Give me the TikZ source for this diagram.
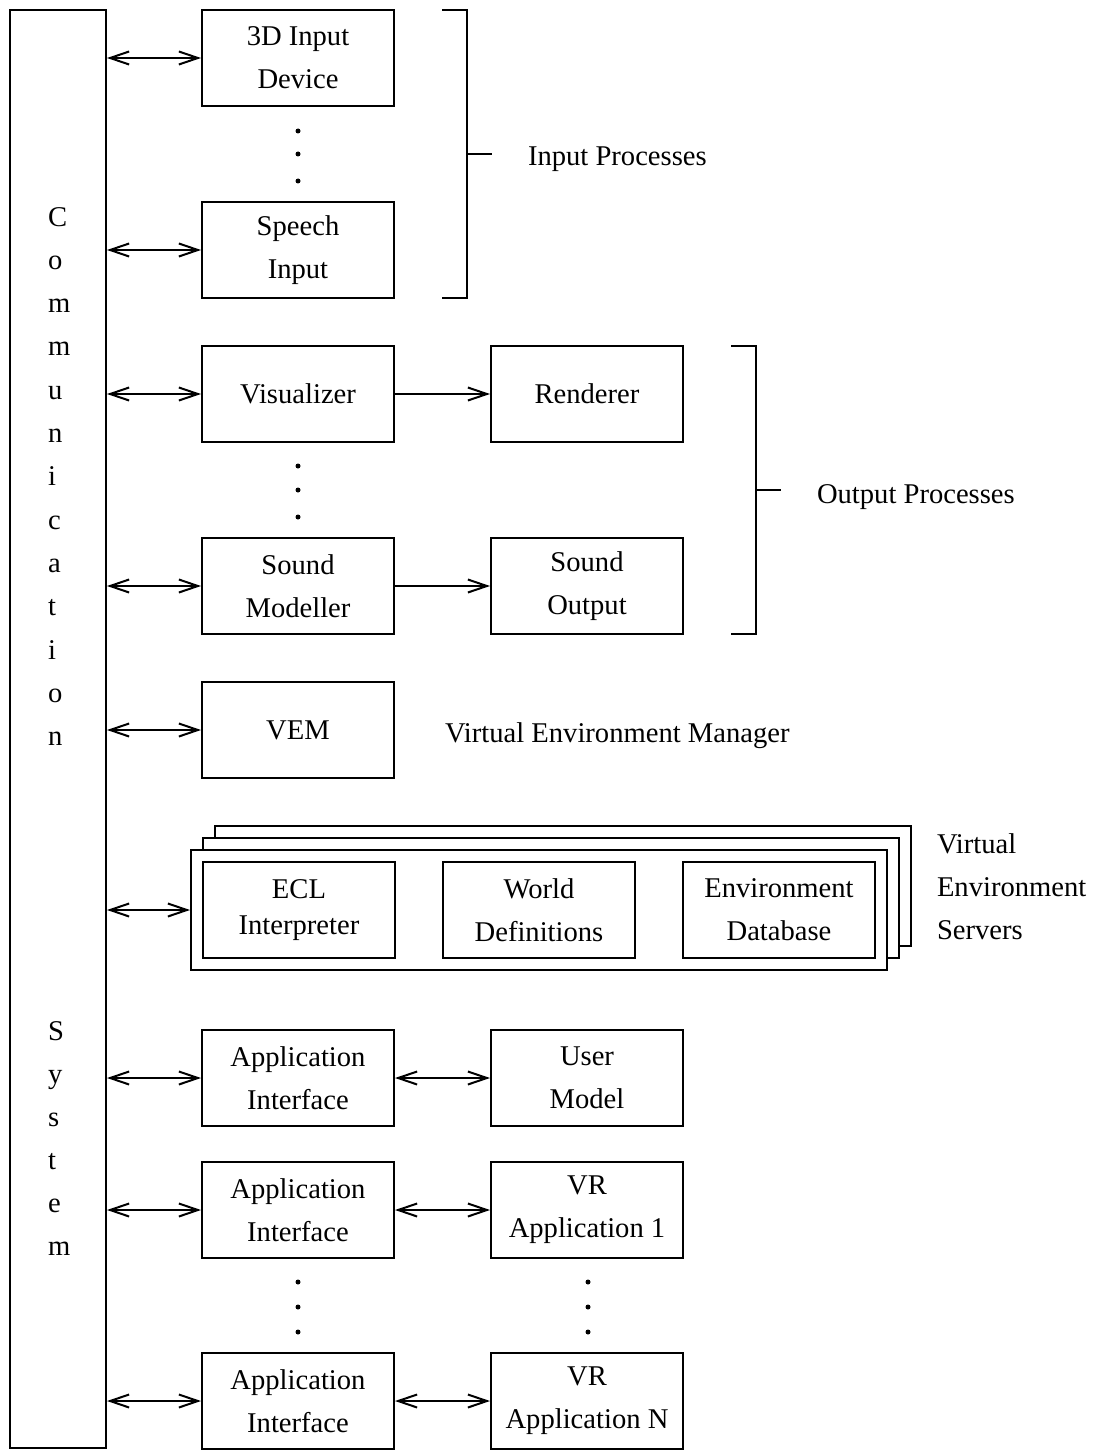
\documentclass[tikz,border=0pt]{standalone}
\usepackage{fontspec}
\setmainfont{Liberation Serif}
\usetikzlibrary{arrows.meta}
\newcommand\figfont{\fontsize{28.6pt}{43pt}\selectfont}
\begin{document}
\begin{tikzpicture}[x=1pt,y=-1pt,line width=2pt,
  box/.style={draw,fill=white,minimum width=192pt,minimum height=96pt,inner sep=0pt,align=center,font=\figfont},
  frame/.style={draw,fill=white,minimum width=696pt,minimum height=120pt,inner sep=0pt},
  lbl/.style={anchor=base west,inner sep=0pt,font=\figfont},
  conn/.style={{Straight Barb[length=19pt,width=13pt]}-{Straight Barb[length=19pt,width=13pt]}},
  fwd/.style={-{Straight Barb[length=19pt,width=13pt]}},
  bracket/.style={line cap=butt}
]
\useasboundingbox (0,0) rectangle (1092,1450);

% communication system bar
\node[draw,minimum width=96pt,minimum height=1438pt,inner sep=0pt] (comm) at (58,729) {};
\foreach \l [count=\i from 0] in {C,o,m,m,u,n,i,c,a,t,i,o,n}
  \node[lbl] (cl\i) at (47,{226+43.3*\i}) {\l};
\foreach \l [count=\i from 0] in {S,y,s,t,e,m}
  \node[lbl] (sl\i) at (47,{1040+43*\i}) {\l};

% input processes
\node[box] (in1) at (298,58) {3D Input\\Device};
\node[box] (in2) at (298,250) {Speech\\Input};
\fill (298,131) circle (2.5pt) (298,154) circle (2.5pt) (298,181) circle (2.5pt);
\draw[bracket] (442,10) -- (467,10) -- (467,298) -- (442,298);
\draw (467,154) -- (492,154);
\node[lbl] (inlab) at (527,166) {Input Processes};

% output processes
\node[box] (vis) at (298,394) {Visualizer};
\node[box] (ren) at (587,394) {Renderer};
\node[box] (sm) at (298,586) {Sound\\Modeller};
\node[box] (so) at (587,586) {Sound\\Output};
\fill (298,466) circle (2.5pt) (298,490) circle (2.5pt) (298,517) circle (2.5pt);
\draw[bracket] (731,346) -- (756,346) -- (756,634) -- (731,634);
\draw (756,490) -- (781,490);
\node[lbl] (outlab) at (816,503) {Output Processes};

% VEM
\node[box] (vem) at (298,730) {VEM};
\node[lbl] (vemlab) at (444,742) {Virtual Environment Manager};

% virtual environment servers
\node[frame] (back) at (563,886) {};
\node[frame] (mid) at (551,898) {};
\node[frame] (front) at (539,910) {};
\node[box] (ecl) at (299,910) {ECL\\[-7pt]Interpreter};
\node[box] (wd) at (539,910) {World\\Definitions};
\node[box] (edb) at (779,910) {Environment\\Database};
\node[lbl,align=left,anchor=north west] (veslab) at (936,833) {Virtual\\Environment\\Servers};

% applications
\node[box] (ai1) at (298,1078) {Application\\Interface};
\node[box] (um) at (587,1078) {User\\Model};
\node[box] (ai2) at (298,1210) {Application\\Interface};
\node[box] (vr1) at (587,1210) {VR\\Application 1};
\node[box] (ai3) at (298,1401) {Application\\Interface};
\node[box] (vrn) at (587,1401) {VR\\Application N};
\fill (298,1282) circle (2.5pt) (298,1307) circle (2.5pt) (298,1332) circle (2.5pt);
\fill (588,1282) circle (2.5pt) (588,1307) circle (2.5pt) (588,1332) circle (2.5pt);

% connectors
\foreach \n in {in1,in2,vis,sm,vem,front,ai1,ai2,ai3}
  \draw[conn] (comm.east |- \n.west) -- (\n.west);
\draw[fwd] (vis) -- (ren);
\draw[fwd] (sm) -- (so);
\draw[conn] (ai1) -- (um);
\draw[conn] (ai2) -- (vr1);
\draw[conn] (ai3) -- (vrn);
\end{tikzpicture}
\end{document}
